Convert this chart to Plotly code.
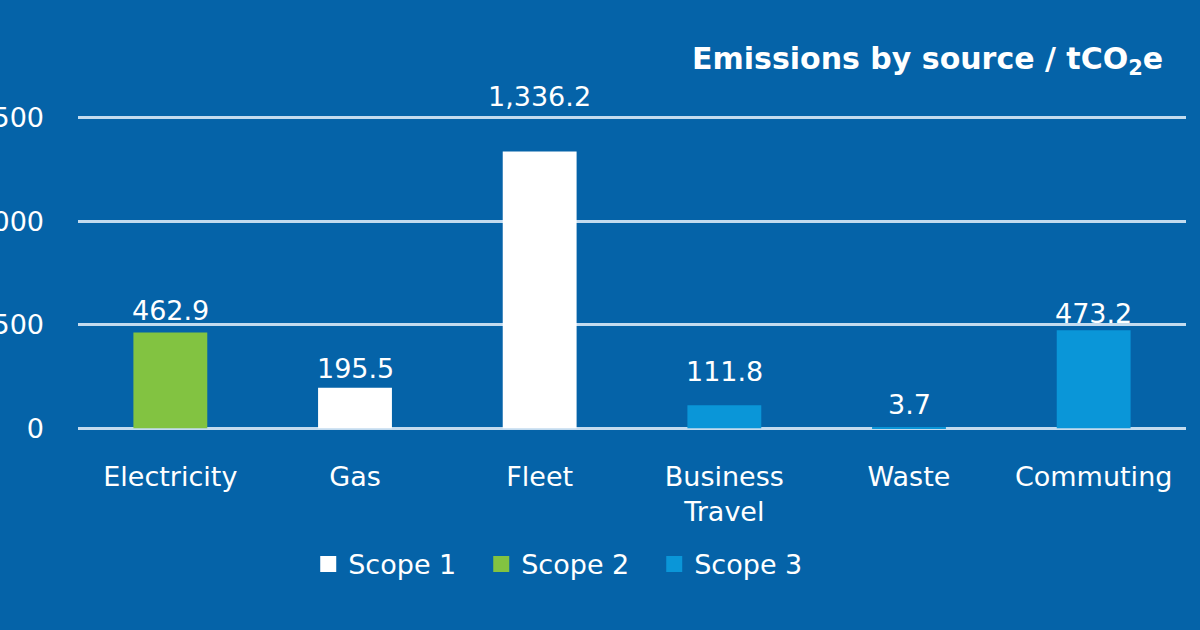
import plotly.graph_objects as go

categories = ["Electricity", "Gas", "Fleet", "Business<br>Travel", "Waste", "Commuting"]
values = [462.9, 195.5, 1336.2, 111.8, 3.7, 473.2]
scopes = ["Scope 2", "Scope 1", "Scope 1", "Scope 3", "Scope 3", "Scope 3"]
series_names = ["Scope 1", "Scope 2", "Scope 3"]
y_ticks = [0, 500, 1000, 1500]

# styles
series_colors = {"Scope 1": "#FFFFFF", "Scope 2": "#82C341", "Scope 3": "#0A96D8"}
label_offsets_px = [22, 19, 55, 34, 23, 17]
BG = "#0563A8"
FONT = "DejaVu Sans"
FS = 27

fig = go.Figure()
for s in series_names:
    ys = [v if sc == s else None for v, sc in zip(values, scopes)]
    fig.add_trace(go.Bar(
        x=categories, y=ys, name=s, marker_color=series_colors[s],
        marker_line_width=0, showlegend=False, hoverinfo="skip",
    ))
for s in series_names:
    fig.add_trace(go.Scatter(
        x=[None], y=[None], mode="markers", name=s,
        marker=dict(symbol="square", size=16, color=series_colors[s]),
        showlegend=True, hoverinfo="skip",
    ))

annotations = []
for c, v, off in zip(categories, values, label_offsets_px):
    annotations.append(dict(
        x=c, y=v, xref="x", yref="y", text=f"{v:,.1f}", showarrow=False,
        yanchor="middle", yshift=off,
        font=dict(size=FS, color="#FFFFFF", family=FONT),
    ))
annotations.append(dict(
    text="<b>Emissions by source / tCO<sub>2</sub>e</b>",
    xref="paper", yref="paper", x=(1165 - 78) / 1108, xanchor="right",
    y=1.0, yanchor="middle", yshift=56, showarrow=False,
    font=dict(size=30, color="#FFFFFF", family=FONT),
))

fig.update_layout(
    width=1200, height=630,
    paper_bgcolor=BG, plot_bgcolor=BG,
    barmode="relative", bargap=0.6,
    margin=dict(l=78, r=14, t=116, b=200, autoexpand=False),
    font=dict(family=FONT, color="#FFFFFF", size=FS),
    showlegend=True,
    legend=dict(orientation="h", x=0.442, xanchor="center", y=-0.428, yanchor="middle",
                font=dict(size=FS, color="#FFFFFF", family=FONT),
                traceorder="normal", itemwidth=30, entrywidth=128,
                bgcolor="rgba(0,0,0,0)"),
    xaxis=dict(showgrid=False, zeroline=False, showline=False,
               tickfont=dict(size=FS, color="#FFFFFF", family=FONT),
               ticks="", ticklabelstandoff=28, automargin=False),
    yaxis=dict(range=[-8, 1508], tickvals=y_ticks, tickformat=",",
               showgrid=True, gridcolor="#C3DBEF", gridwidth=2.5,
               zeroline=False, showline=False, ticks="",
               ticklabelstandoff=33, automargin=False,
               tickfont=dict(size=FS, color="#FFFFFF", family=FONT)),
    annotations=annotations,
)

fig.write_html("out.html", config={"displayModeBar": False},
               post_script="document.body.style.margin='0';")
